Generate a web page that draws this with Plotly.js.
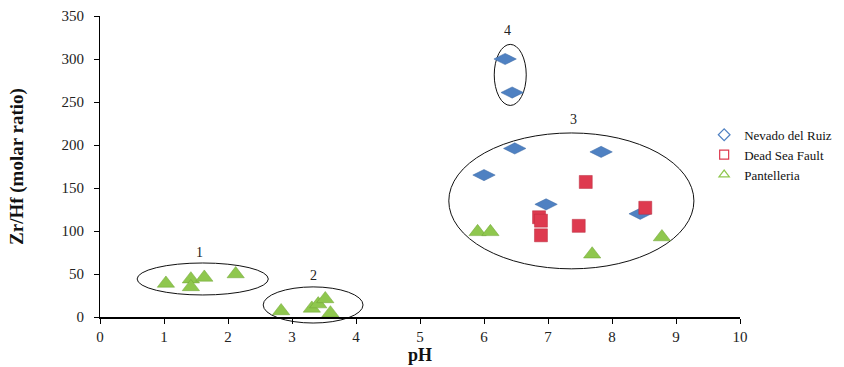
<!DOCTYPE html>
<html><head><meta charset="utf-8">
<script src="https://cdn.plot.ly/plotly-3.0.1.min.js"></script>
<style>body{margin:0;background:#fff}#chart{width:844px;height:367px}</style>
</head><body><div id="chart"></div>
<script>
// Data
const ruizPH = [6.33, 6.44, 6.0, 6.48, 7.83, 6.97, 8.44];
const ruizZrHf = [300, 261, 165, 196, 192, 131, 120];
const deadSeaPH = [7.59, 8.52, 6.86, 6.89, 6.89, 7.48];
const deadSeaZrHf = [157, 127, 116, 112, 95, 106];
const pantelleriaPH = [1.03, 1.42, 1.42, 1.63, 2.12, 2.83, 3.31, 3.41, 3.52, 3.6, 5.9, 6.1, 7.69, 8.78];
const pantelleriaZrHf = [39, 44, 35, 46, 50, 7, 10, 15, 21, 4.5, 99, 99, 73, 93];
const seriesNames = ['Nevado del Ruiz', 'Dead Sea Fault', 'Pantelleria'];
// Group ellipses (data units: x0, x1, y0, y1) and labels
const groupEllipses = [[0.58, 2.63, 25.6, 62.8], [2.55, 4.11, -7, 35], [5.45, 9.28, 56, 214], [6.16, 6.66, 246, 317]];
const groupLabels = ['1', '2', '3', '4'];
const groupLabelX = [1.56, 3.33, 7.4, 6.36];
const groupLabelY = [75, 48, 230, 333];

const xRange = [0, 10], yRange = [0, 350];
const px = v => (v - xRange[0]) / (xRange[1] - xRange[0]);
const py = v => (v - yRange[0]) / (yRange[1] - yRange[0]);

const serif = '"Liberation Serif", "Times New Roman", serif';
const colors = ['#4f81c2', '#de3a4f', '#8fc74e'];
const lines = ['#3d68a3', '#b82d3f', '#6fa334'];

const traces = [
  {x: ruizPH, y: ruizZrHf, name: seriesNames[0], type: 'scatter', mode: 'markers', showlegend: false,
   marker: {symbol: 'diamond-wide', size: 16, color: colors[0], line: {color: lines[0], width: 0.5}}, cliponaxis: false},
  {x: deadSeaPH, y: deadSeaZrHf, name: seriesNames[1], type: 'scatter', mode: 'markers', showlegend: false,
   marker: {symbol: 'square', size: 13, color: colors[1], line: {color: lines[1], width: 0.5}}, cliponaxis: false},
  {x: pantelleriaPH, y: pantelleriaZrHf, name: seriesNames[2], type: 'scatter', mode: 'markers', showlegend: false,
   marker: {symbol: 'triangle-up', size: 15, color: colors[2], line: {color: lines[2], width: 0.5}}, cliponaxis: false},
  // legend entries (open symbols)
  {x: [null], y: [null], name: seriesNames[0], type: 'scatter', mode: 'markers',
   marker: {symbol: 'diamond-open', size: 9, color: colors[0], line: {width: 1.2}}},
  {x: [null], y: [null], name: seriesNames[1], type: 'scatter', mode: 'markers',
   marker: {symbol: 'square-open', size: 9, color: colors[1], line: {width: 1.2}}},
  {x: [null], y: [null], name: seriesNames[2], type: 'scatter', mode: 'markers',
   marker: {symbol: 'triangle-up-open', size: 9, color: colors[2], line: {width: 1.2}}}
];

const shapes = groupEllipses.map(e => ({
  type: 'circle', xref: 'paper', yref: 'paper',
  x0: px(e[0]), x1: px(e[1]), y0: py(e[2]), y1: py(e[3]),
  line: {color: '#111', width: 1}, layer: 'below'
}));

const annotations = groupLabels.map((t, i) => ({
  text: t, x: groupLabelX[i], y: groupLabelY[i], xref: 'x', yref: 'y',
  showarrow: false, font: {family: serif, size: 14, color: '#222'}
}));

const layout = {
  width: 844, height: 367,
  margin: {l: 100, r: 104, t: 16, b: 50, autoexpand: false},
  paper_bgcolor: '#fff', plot_bgcolor: '#fff',
  font: {family: serif, color: '#222'},
  xaxis: {range: xRange, dtick: 1, showgrid: false, zeroline: false, showline: true,
    linecolor: '#000', linewidth: 2, ticks: 'outside', ticklen: 5, tickcolor: '#000',
    ticklabelstandoff: 0,
    tickfont: {family: serif, size: 15, color: '#222'},
    title: {text: '<b>pH</b>', font: {family: serif, size: 18, color: '#111'}, standoff: 4}},
  yaxis: {range: yRange, dtick: 50, showgrid: false, zeroline: false, showline: true,
    linecolor: '#000', linewidth: 1, ticks: 'outside', ticklen: 5, tickcolor: '#000',
    ticklabelstandoff: 7,
    tickfont: {family: serif, size: 15, color: '#222'},
    title: {text: '<b>Zr/Hf (molar ratio)</b>', font: {family: serif, size: 19, color: '#111'}, standoff: 32}},
  legend: {x: 0.944, y: 0.655, xanchor: 'left', yanchor: 'top', bgcolor: 'rgba(0,0,0,0)',
    font: {family: serif, size: 13, color: '#111'}, itemwidth: 30, tracegroupgap: 0},
  shapes: shapes, annotations: annotations, showlegend: true
};

Plotly.newPlot('chart', traces, layout, {displayModeBar: false, staticPlot: true});
</script></body></html>
